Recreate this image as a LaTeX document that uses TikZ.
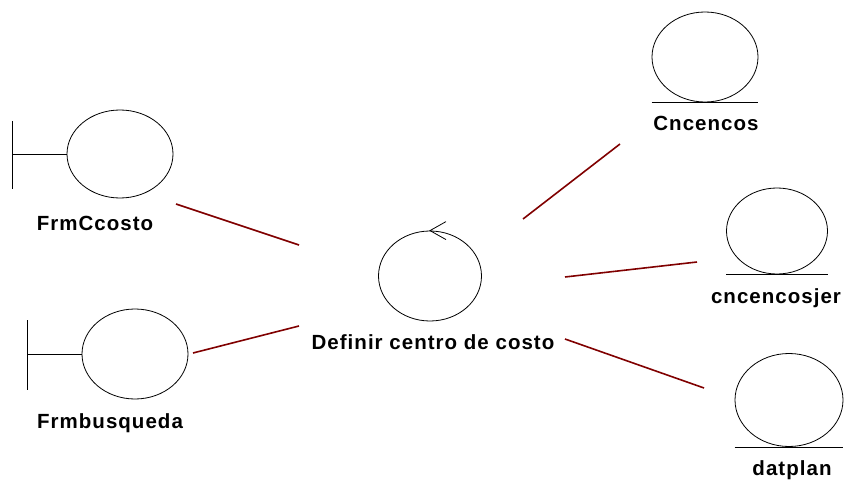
\documentclass[tikz,border=0pt]{standalone}
\usepackage{fontspec}
\setsansfont{Liberation Sans}[LetterSpace=5]
\usetikzlibrary{shapes.geometric, calc}
\definecolor{link}{HTML}{800000}
\definecolor{ink}{HTML}{000000}

\begin{document}
\begin{tikzpicture}[x=1pt, y=-1pt, line width=0.8pt,
    obj/.style={draw=ink, ellipse, inner sep=0pt, minimum width=106pt, minimum height=88pt},
    lbl/.style={anchor=base, inner sep=0pt, text=ink, font=\sffamily\bfseries\fontsize{20.5}{24}\selectfont},
    rel/.style={draw=link, line width=1.6pt}]
  \useasboundingbox (0,0) rectangle (846,481);

  % boundary objects
  \node[obj] (frmccosto) at (120,154) {};
  \node[obj, minimum height=90pt] (frmbusq) at (135,354) {};
  \draw (frmccosto.west) -- ++(-54,0) ++(0,-33) -- ++(0,68);
  \draw (frmbusq.west) -- ++(-54,0) ++(0,-34) -- ++(0,70);
  \node[lbl] (frmccosto-t) at (95,231) {FrmCcosto};
  \node[lbl] (frmbusq-t) at (110,428) {Frmbusqueda};

  % control
  \node[obj, minimum width=103pt, minimum height=90pt] (ctl) at (430,276) {};
  \draw ($(ctl.north)+(16,-9)$) -- (ctl.north) -- ++(16,9);
  \node[lbl] (ctl-t) at (433,349) {Definir centro de costo};

  % entities
  \node[obj, minimum height=90pt] (cncencos) at (705,57) {};
  \node[obj, minimum width=101pt, minimum height=86pt] (cnjer) at (777,231) {};
  \node[obj, minimum width=108pt, minimum height=93pt] (datplan) at (789,400) {};
  \foreach \e in {cncencos, cnjer, datplan}
    \draw (\e.west |- \e.south) -- (\e.east |- \e.south);
  \node[lbl] (cncencos-t) at (706,131) {Cncencos};
  \node[lbl] (cnjer-t) at (776,303) {cncencosjer};
  \node[lbl] (datplan-t) at (792,475) {datplan};

  % link ends
  \coordinate (p1) at (176,204);  \coordinate (q1) at (299,245);
  \coordinate (p2) at (193,353);  \coordinate (q2) at (299,326);
  \coordinate (p3) at (523,219);  \coordinate (q3) at (620,144);
  \coordinate (p4) at (565,277);  \coordinate (q4) at (697,262);
  \coordinate (p5) at (565,339);  \coordinate (q5) at (704,388);
  \foreach \i in {1,...,5}
    \draw[rel] (p\i) -- (q\i);
\end{tikzpicture}
\end{document}
